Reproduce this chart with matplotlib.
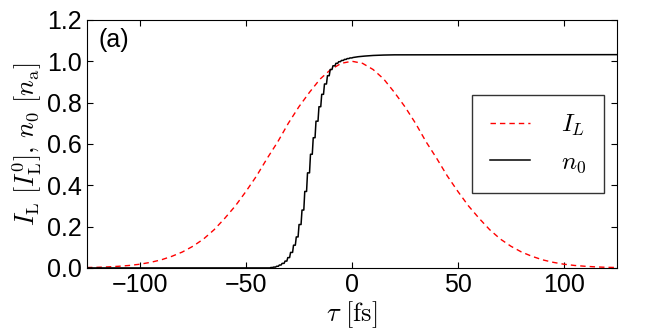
import matplotlib
matplotlib.use("Agg")
import matplotlib.pyplot as plt

plt.rcParams['font.family'] = ['Liberation Sans', 'DejaVu Sans']
plt.rcParams['mathtext.fontset'] = 'cm'

# laser intensity I_L
tau_laser = [-125, -120, -115, -110, -105, -100, -95, -90, -85, -80, -75, -70, -65, -60,
             -55, -50, -45, -40, -35, -30, -25, -20, -15, -10, -5, 0,
             5, 10, 15, 20, 25, 30, 35, 40, 45, 50, 55, 60, 65, 70,
             75, 80, 85, 90, 95, 100, 105, 110, 115, 120, 125]
intensity = [0.002, 0.003, 0.005, 0.008, 0.012, 0.018, 0.027, 0.039, 0.056, 0.077, 0.105,
             0.14, 0.185, 0.24, 0.30, 0.37, 0.445, 0.53, 0.61, 0.70, 0.78, 0.85, 0.914,
             0.96, 0.99, 1.0,
             0.99, 0.96, 0.914, 0.85, 0.78, 0.70, 0.61, 0.53, 0.445, 0.37, 0.30, 0.24,
             0.185, 0.14, 0.105, 0.077, 0.056, 0.039, 0.027, 0.018, 0.012, 0.008, 0.005,
             0.003, 0.002]

# electron density n_0: one ionisation step per half cycle ...
step_tau = [-38.7, -37.4, -36.0, -34.7, -33.4, -32.0, -30.7, -29.4, -28.0, -26.7,
            -25.4, -24.0, -22.7, -21.4, -20.0, -18.7, -17.4, -16.0, -14.7, -13.4, -12.0,
            -10.7, -9.4, -8.0, -6.7, -5.4, -4.0, -2.7, -1.4, 0.0]
step_n = [0.002, 0.004, 0.008, 0.014, 0.022, 0.033, 0.050, 0.075, 0.11, 0.15,
          0.21, 0.28, 0.37, 0.46, 0.55, 0.63, 0.71, 0.78, 0.84, 0.89, 0.93,
          0.96, 0.978, 0.99, 0.998, 1.004, 1.009, 1.013, 1.016, 1.018]
# ... then a slow smooth saturation
tail_tau = [3, 6, 10, 15, 20, 125]
tail_n = [1.022, 1.025, 1.028, 1.030, 1.031, 1.032]

# staircase with short risers
dens_x = [-125]
dens_y = [0.0]
for t, n in zip(step_tau, step_n):
    dens_x += [t, t + 0.45]
    dens_y += [dens_y[-1], n]
dens_x += tail_tau
dens_y += tail_n

fig = plt.figure(figsize=(6.64, 3.32), dpi=100)
ax = fig.add_axes([0.131, 0.193, 0.798, 0.747])

ax.plot(tau_laser, intensity, color='red', lw=1.0, dashes=(3.9, 2.9), label='$I_L$')
ax.plot(dens_x, dens_y, color='black', lw=1.1, label='$n_0$')

ax.set_xlim(-125, 125)
ax.set_ylim(0, 1.2)
ax.set_xticks([-100, -50, 0, 50, 100])
ax.set_yticks([0.0, 0.2, 0.4, 0.6, 0.8, 1.0, 1.2])
ax.set_yticklabels(['0.0', '0.2', '0.4', '0.6', '0.8', '1.0', '1.2'])
ax.tick_params(direction='in', top=True, right=True, labelsize=18, length=4, pad=4)

ax.set_xlabel(r'$\tau\ [\mathrm{fs}]$', fontsize=19, labelpad=1)
ax.set_ylabel(r'$I_{\rm L}\ [I_{\rm L}^{0}],\,n_0\ [n_{\rm a}]$', fontsize=19, labelpad=2)

ax.text(0.021, 0.968, '(a)', transform=ax.transAxes, fontsize=18, va='top', ha='left')

leg = ax.legend(loc='center right', bbox_to_anchor=(0.975, 0.5), borderaxespad=0,
                fontsize=18, fancybox=False, framealpha=1, edgecolor='#333333',
                handlelength=1.6, handletextpad=1.25, borderpad=0.7, labelspacing=0.5)
leg.get_frame().set_linewidth(1.0)

fig.savefig('out.png', dpi=100)
